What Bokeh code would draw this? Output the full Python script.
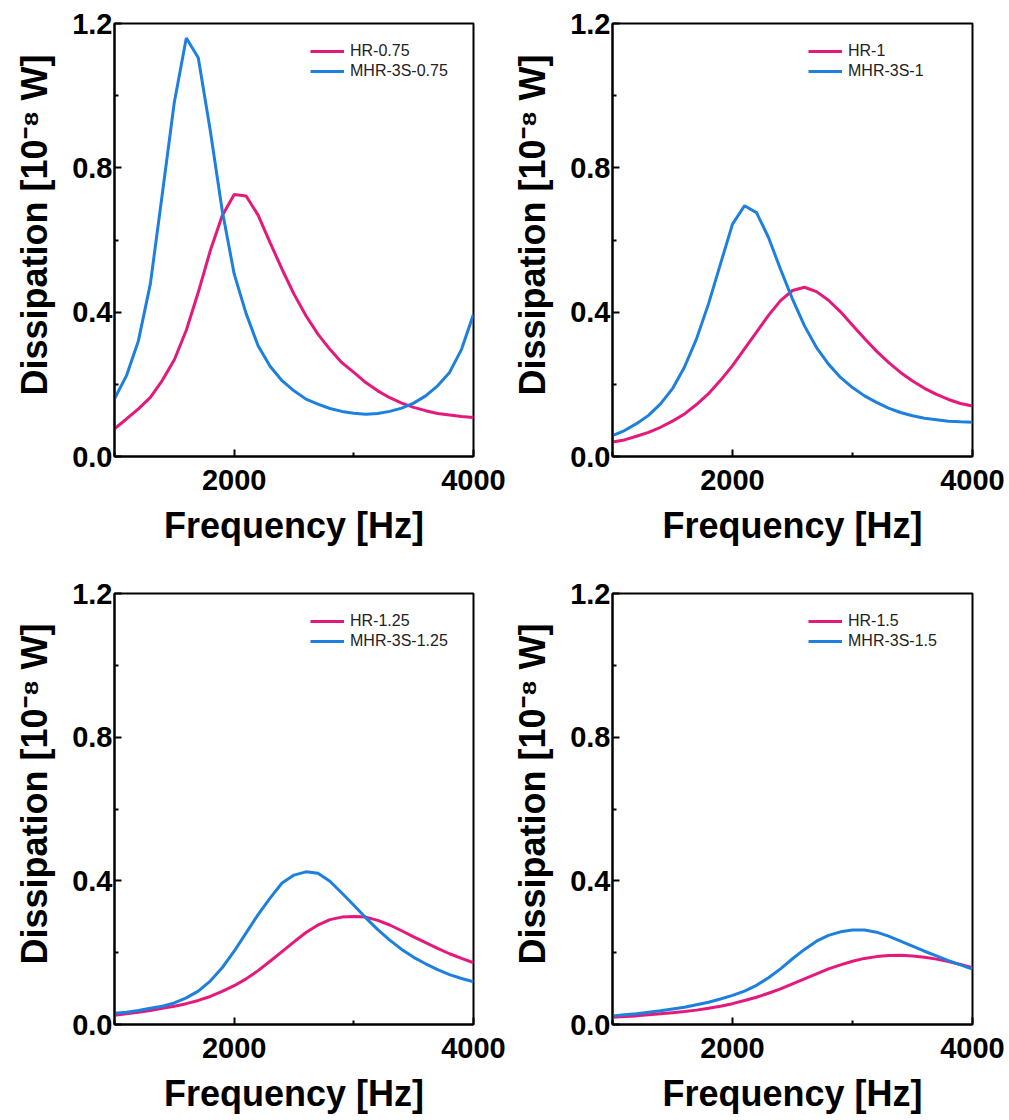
from bokeh.plotting import figure
from bokeh.layouts import gridplot
from bokeh.models import Range1d, FixedTicker, Legend, LegendItem
from bokeh.embed import file_html
from bokeh.resources import INLINE

freq = [1000, 1100, 1200, 1300, 1400, 1500, 1600, 1700, 1800, 1900, 2000,
        2100, 2200, 2300, 2400, 2500, 2600, 2700, 2800, 2900, 3000,
        3100, 3200, 3300, 3400, 3500, 3600, 3700, 3800, 3900, 4000]

hr_075 = [0.077, 0.104, 0.132, 0.164, 0.211, 0.268, 0.350, 0.455, 0.570, 0.667, 0.726,
          0.722, 0.669, 0.593, 0.519, 0.450, 0.390, 0.339, 0.297, 0.260, 0.233,
          0.205, 0.182, 0.163, 0.148, 0.136, 0.127, 0.119, 0.115, 0.111, 0.108]
mhr_075 = [0.160, 0.224, 0.321, 0.479, 0.729, 0.982, 1.160, 1.105, 0.904, 0.682, 0.506,
           0.396, 0.307, 0.250, 0.210, 0.182, 0.159, 0.145, 0.133, 0.125, 0.120,
           0.117, 0.119, 0.125, 0.134, 0.148, 0.168, 0.196, 0.233, 0.297, 0.394]

hr_1 = [0.040, 0.046, 0.056, 0.067, 0.081, 0.098, 0.118, 0.144, 0.174, 0.211, 0.252,
        0.298, 0.345, 0.391, 0.432, 0.460, 0.469, 0.457, 0.433, 0.401, 0.364,
        0.327, 0.292, 0.261, 0.233, 0.209, 0.189, 0.172, 0.158, 0.147, 0.140]
mhr_1 = [0.058, 0.072, 0.091, 0.114, 0.146, 0.188, 0.248, 0.326, 0.423, 0.534, 0.644,
         0.695, 0.676, 0.607, 0.519, 0.436, 0.362, 0.302, 0.256, 0.219, 0.191,
         0.168, 0.150, 0.134, 0.122, 0.113, 0.106, 0.102, 0.098, 0.096, 0.095]

hr_125 = [0.026, 0.030, 0.034, 0.039, 0.045, 0.051, 0.058, 0.067, 0.078, 0.092, 0.108,
          0.127, 0.150, 0.176, 0.203, 0.230, 0.256, 0.277, 0.292, 0.299, 0.301,
          0.299, 0.290, 0.277, 0.261, 0.244, 0.228, 0.212, 0.197, 0.184, 0.172]
mhr_125 = [0.031, 0.034, 0.039, 0.045, 0.051, 0.060, 0.074, 0.093, 0.121, 0.158, 0.204,
           0.255, 0.306, 0.352, 0.394, 0.416, 0.425, 0.421, 0.399, 0.366, 0.332,
           0.297, 0.264, 0.235, 0.209, 0.187, 0.169, 0.153, 0.139, 0.128, 0.119]

hr_15 = [0.020, 0.022, 0.024, 0.027, 0.030, 0.033, 0.036, 0.040, 0.045, 0.051, 0.058,
         0.067, 0.076, 0.087, 0.099, 0.113, 0.127, 0.141, 0.155, 0.166, 0.176,
         0.184, 0.189, 0.192, 0.193, 0.191, 0.187, 0.182, 0.175, 0.167, 0.158]
mhr_15 = [0.024, 0.027, 0.030, 0.034, 0.038, 0.043, 0.048, 0.055, 0.062, 0.071, 0.081,
          0.093, 0.109, 0.130, 0.155, 0.183, 0.209, 0.232, 0.248, 0.258, 0.263,
          0.263, 0.257, 0.246, 0.232, 0.218, 0.204, 0.191, 0.178, 0.166, 0.154]

panels = [
    ("HR-0.75", hr_075, "MHR-3S-0.75", mhr_075),
    ("HR-1", hr_1, "MHR-3S-1", mhr_1),
    ("HR-1.25", hr_125, "MHR-3S-1.25", mhr_125),
    ("HR-1.5", hr_15, "MHR-3S-1.5", mhr_15),
]

x_major = [2000, 4000]
x_minor = [1000, 3000]
y_major = [0.0, 0.4, 0.8, 1.2]
y_minor = [0.2, 0.6, 1.0]
x_labels = {2000: "2000", 4000: "4000"}
y_labels = {0.0: "0.0", 0.4: "0.4", 0.8: "0.8", 1.2: "1.2"}

PINK = "#E5197B"
BLUE = "#1E80DE"
FONT = "Liberation Sans"


def make(idx, fw, fh, bl, br, bt, bb):
    name_a, ya, name_b, yb = panels[idx]
    p = figure(frame_width=fw, frame_height=fh, output_backend="svg",
               toolbar_location=None, x_range=Range1d(1000, 4000),
               y_range=Range1d(0, 1.2), min_border_left=bl, min_border_right=br,
               min_border_top=bt, min_border_bottom=bb)
    p.xgrid.visible = False
    p.ygrid.visible = False
    p.outline_line_color = "black"
    p.outline_line_width = 2
    r1 = p.line(freq, ya, line_color=PINK, line_width=3)
    r2 = p.line(freq, yb, line_color=BLUE, line_width=3)

    p.xaxis.ticker = FixedTicker(ticks=x_major, minor_ticks=x_minor)
    p.yaxis.ticker = FixedTicker(ticks=y_major, minor_ticks=y_minor)
    p.xaxis.major_label_overrides = x_labels
    p.yaxis.major_label_overrides = y_labels
    for ax in (p.xaxis[0], p.yaxis[0]):
        ax.axis_line_color = "black"
        ax.axis_line_width = 2
        ax.major_tick_in = 7
        ax.major_tick_out = 0
        ax.minor_tick_in = 4
        ax.minor_tick_out = 0
        ax.major_tick_line_width = 2
        ax.minor_tick_line_width = 2
        ax.major_label_text_font = FONT
        ax.major_label_text_font_style = "bold"
        ax.major_label_text_font_size = "29px"
        ax.major_label_text_color = "black"
        ax.axis_label_text_font = FONT
        ax.axis_label_text_font_style = "bold"
        ax.axis_label_text_font_size = "36px"
        ax.axis_label_text_color = "black"
    p.xaxis.axis_label = "Frequency [Hz]"
    p.yaxis.axis_label = "\u00a0\u00a0\u00a0Dissipation [10\u207b\u2078 W]"
    p.xaxis.major_label_standoff = 13
    p.yaxis.major_label_standoff = 2
    p.xaxis.axis_label_standoff = 12
    p.yaxis.axis_label_standoff = 14

    legend = Legend(items=[LegendItem(label=name_a, renderers=[r1]),
                           LegendItem(label=name_b, renderers=[r2])],
                    location=(196, fh - 18 - 40))
    legend.glyph_width = 34
    legend.glyph_height = 20
    legend.label_height = 20
    legend.label_standoff = 6
    legend.spacing = 0
    legend.padding = 0
    legend.margin = 0
    legend.border_line_color = None
    legend.background_fill_alpha = 0
    legend.label_text_font = FONT
    legend.label_text_font_size = "16px"
    legend.label_text_color = "#222222"
    p.add_layout(legend, "center")
    return p


p1 = make(0, 359, 433, 114, 33, 23, 122)
p2 = make(1, 360, 433, 106, 34, 23, 122)
p3 = make(2, 359, 431, 114, 33, 15, 90)
p4 = make(3, 360, 431, 106, 34, 15, 90)

grid = gridplot([[p1, p2], [p3, p4]], toolbar_location=None)

open("out.html", "w").write(file_html(grid, INLINE))
